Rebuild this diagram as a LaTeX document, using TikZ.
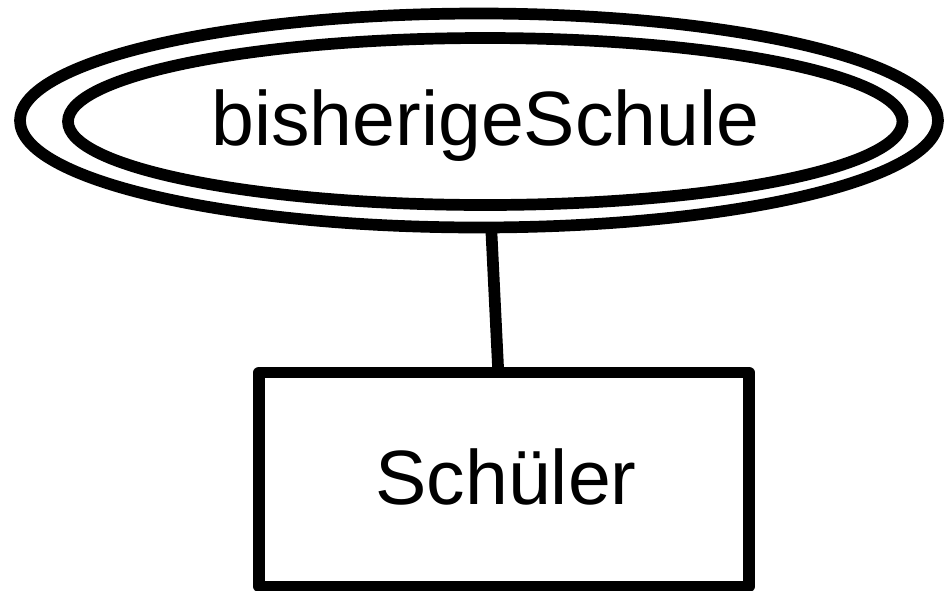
\documentclass[tikz,border=0pt]{standalone}
\usepackage{fontspec}
\setmainfont{Liberation Sans}
\usetikzlibrary{shapes.geometric}
\tikzset{
  stroke/.style={draw=black, line width=11.7pt},
  ell/.style={stroke, ellipse, inner sep=0pt, outer sep=0pt},
  entbox/.style={stroke, rectangle, line join=round, inner sep=0pt, outer sep=0pt},
  lbl/.style={font=\fontsize{77}{90}\selectfont, inner sep=0pt, anchor=base},
  link/.style={draw=black, line width=11.7pt}
}
\begin{document}
\begin{tikzpicture}[x=1pt,y=-1pt]
\useasboundingbox (0,0) rectangle (944,590);
\coordinate (a1) at (491.2,227.5);
\coordinate (a2) at (498.3,372.5);
\draw[link] (a1) -- (a2);
\node[ell, minimum width=918pt, minimum height=214pt, fill=white] (outer) at (479,120.5) {};
\node[ell, minimum width=834.5pt, minimum height=167pt] (attr) at (485.25,121.5) {};
\node[lbl] (attrtext) at (485.5,145) {bisherigeSchule};
\node[entbox, fill=white, minimum width=490pt, minimum height=214pt] (ent) at (504,479.5) {};
\node[lbl] (enttext) at (506,504) {Schüler};
\end{tikzpicture}
\end{document}
